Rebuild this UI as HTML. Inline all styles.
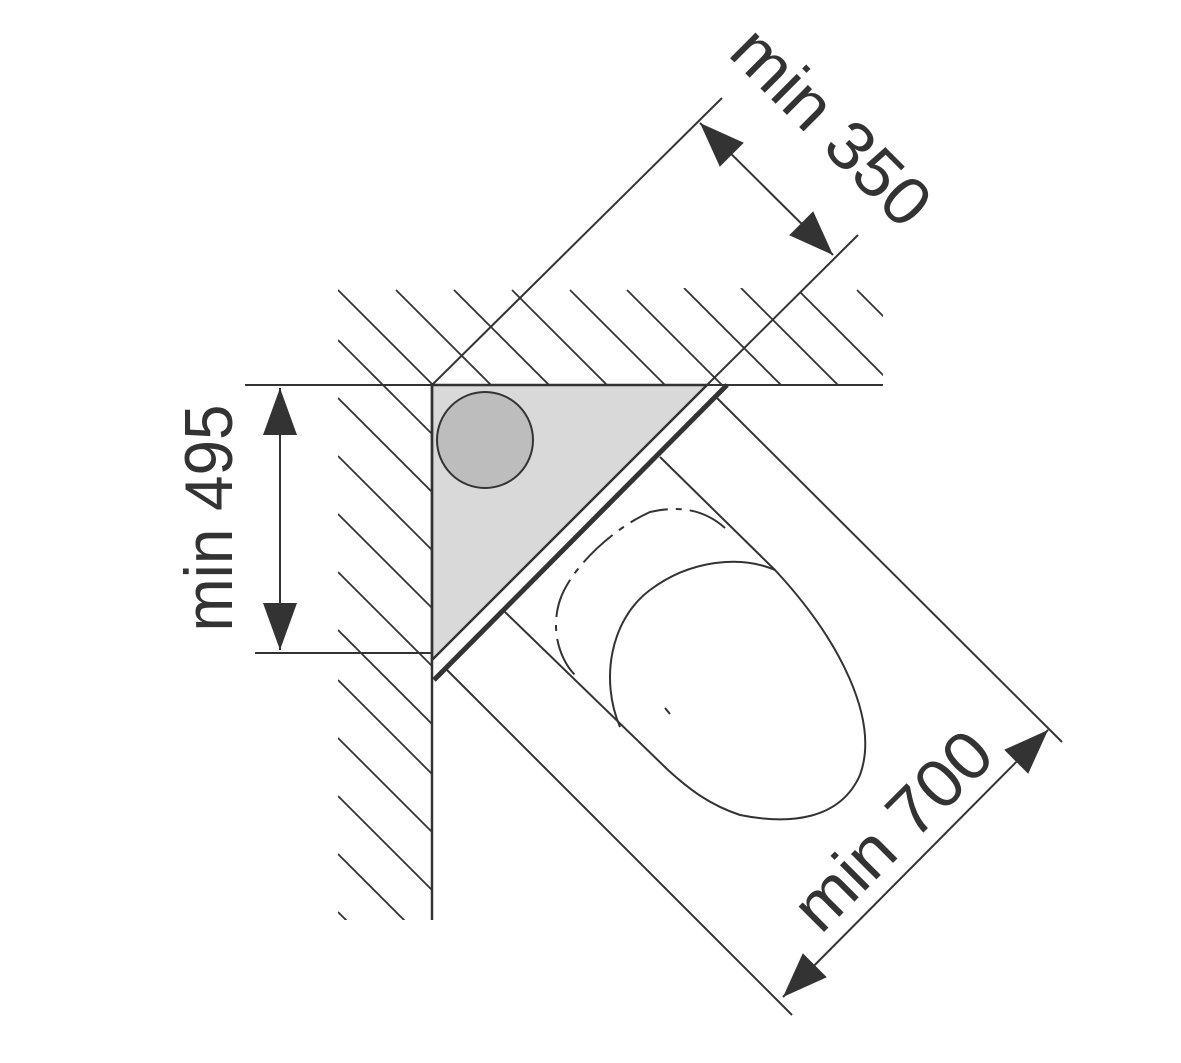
<!DOCTYPE html>
<html><head><meta charset="utf-8"><style>html,body{margin:0;padding:0;background:#fff;width:1181px;height:1063px;overflow:hidden}svg{display:block}</style></head>
<body>
<svg width="1181" height="1063" viewBox="0 0 1181 1063" xmlns="http://www.w3.org/2000/svg">
<defs>
<clipPath id="ct"><rect x="338" y="288" width="545" height="97"/></clipPath>
<clipPath id="cl"><rect x="338" y="385" width="94" height="535"/></clipPath>
</defs>
<g stroke="#333" stroke-width="1.8" fill="none">
<g clip-path="url(#ct)">
<line x1="338" y1="290" x2="438" y2="390"/><line x1="396" y1="290" x2="496" y2="390"/>
<line x1="454" y1="290" x2="554" y2="390"/><line x1="512" y1="290" x2="612" y2="390"/>
<line x1="570" y1="290" x2="670" y2="390"/><line x1="627" y1="290" x2="727" y2="390"/>
<line x1="684" y1="288" x2="784" y2="388"/><line x1="741" y1="288" x2="841" y2="388"/>
<line x1="800" y1="292" x2="900" y2="392"/><line x1="857" y1="290" x2="957" y2="390"/>
<line x1="338" y1="340" x2="438" y2="440"/>
</g>
<g clip-path="url(#cl)">
<line x1="338" y1="340" x2="938" y2="940"/><line x1="338" y1="398" x2="938" y2="998"/>
<line x1="338" y1="456" x2="938" y2="1056"/><line x1="338" y1="514" x2="938" y2="1114"/>
<line x1="338" y1="572" x2="938" y2="1172"/><line x1="338" y1="630" x2="938" y2="1230"/>
<line x1="338" y1="680" x2="938" y2="1280"/><line x1="338" y1="738" x2="938" y2="1338"/>
<line x1="338" y1="796" x2="938" y2="1396"/><line x1="338" y1="854" x2="938" y2="1454"/>
<line x1="338" y1="912" x2="938" y2="1512"/>
</g>
</g>
<polygon points="432,385 707,385 432,660" fill="#d9d9d9" stroke="#333" stroke-width="2.5"/>
<circle cx="485" cy="440" r="48" fill="#bdbdbd" stroke="#333" stroke-width="2"/>
<g stroke="#333" fill="none">
<line x1="245" y1="385" x2="883" y2="385" stroke-width="2"/>
<line x1="432" y1="385" x2="432" y2="920" stroke-width="2.5"/>
<line x1="255" y1="653" x2="432" y2="653" stroke-width="2"/>
<line x1="727" y1="385" x2="434" y2="680" stroke-width="5"/>
<line x1="707" y1="385" x2="727" y2="385" stroke-width="2"/>
<line x1="432" y1="680" x2="432" y2="660" stroke-width="2"/>
<line x1="717" y1="398" x2="1062" y2="742" stroke-width="2"/>
<line x1="447" y1="670" x2="792" y2="1015" stroke-width="2"/>
<line x1="432" y1="385" x2="722" y2="98" stroke-width="2"/>
<line x1="707" y1="385" x2="858" y2="235" stroke-width="2"/>
<line x1="700" y1="123" x2="833" y2="255" stroke-width="2"/>
<line x1="783" y1="997" x2="1048" y2="730" stroke-width="2"/>
<line x1="280" y1="388" x2="280" y2="650" stroke-width="2"/>
<path d="M660,457 L775,570 C840,640 880,720 860,775 C840,820 790,825 740,815 C710,805 690,790 668,770 L505,612" stroke-width="2"/>
<path d="M775,570 C740,555 690,560 650,590 C610,620 600,680 620,727" stroke-width="2"/>
<path d="M725,528 C705,510 680,505 650,512 C610,530 570,570 560,600 C550,630 560,660 575,675" stroke-width="2" stroke-dasharray="40,8,6,8"/>
<line x1="665" y1="708" x2="670" y2="714" stroke-width="2"/>
</g>
<g fill="#333">
<polygon points="700,123 743.8,142.8 719.8,166.8"/>
<polygon points="833,255 813.2,211.2 789.2,235.2"/>
<polygon points="783,997 826.8,977.2 802.8,953.2"/>
<polygon points="1048,730 1028.2,773.8 1004.2,749.8"/>
<polygon points="280,388 263,435 297,435"/>
<polygon points="280,650 263,603 297,603"/>
</g>
<g font-family="Liberation Sans, sans-serif" font-size="68" fill="#333" text-anchor="middle">
<text x="0" y="0" transform="translate(832,126) rotate(45)" dy="24" textLength="250" lengthAdjust="spacingAndGlyphs">min 350</text>
<text x="0" y="0" transform="translate(892,830) rotate(-45)" dy="24" textLength="250" lengthAdjust="spacingAndGlyphs">min 700</text>
<text x="0" y="0" transform="translate(208,518) rotate(-90)" dy="24" textLength="227" lengthAdjust="spacingAndGlyphs">min 495</text>
</g>
</svg>
</body></html>
